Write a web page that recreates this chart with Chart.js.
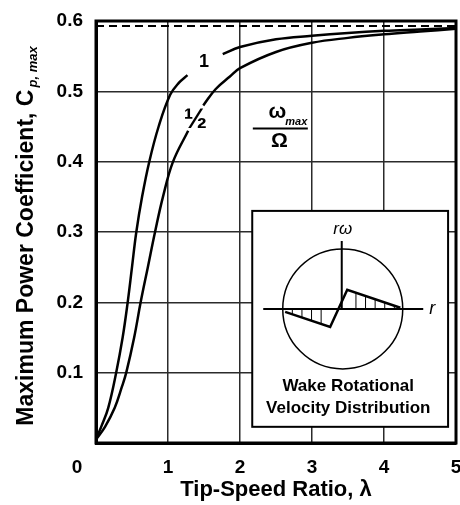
<!DOCTYPE html>
<html>
<head>
<meta charset="utf-8">
<script src="https://cdn.jsdelivr.net/npm/chart.js@4.4.0/dist/chart.umd.min.js"></script>
<style>
  html, body { margin: 0; padding: 0; background: #fff; }
  #wrap { width: 460px; height: 505px; }
</style>
</head>
<body>
<div id="wrap"><canvas id="cpChart" width="460" height="505"></canvas></div>
<script>
// Maximum power coefficient against tip-speed ratio for two wake rotation ratios
const lambdaOne = [0, 0.08, 0.17, 0.28, 0.37, 0.44, 0.50, 0.56, 0.64, 0.74, 0.87, 1.03, 1.15, 1.27, 1.5, 1.76, 2.0, 2.5, 3.0, 3.5, 4.0, 4.5, 5.0];
const cpOne     = [0.005, 0.025, 0.05, 0.1, 0.15, 0.2, 0.25, 0.3, 0.35, 0.4, 0.45, 0.495, 0.512, 0.523, null, 0.553, 0.563, 0.574, 0.579, 0.583, 0.586, 0.588, 0.590];

const lambdaHalf = [0, 0.125, 0.26, 0.36, 0.42, 0.53, 0.62, 0.72, 0.82, 0.93, 1.07, 1.28, 1.4, 1.49, 1.66, 1.86, 2.0, 2.5, 3.0, 3.5, 4.0, 4.5, 5.0];
const cpHalf     = [0.005, 0.023, 0.05, 0.08, 0.1, 0.15, 0.2, 0.25, 0.3, 0.35, 0.4, 0.444, null, 0.48, 0.503, 0.521, 0.533, 0.556, 0.569, 0.576, 0.581, 0.585, 0.589];

// Betz limit, 16/27
const betzLimit = 0.593;

const xTickValues = [0, 1, 2, 3, 4, 5];
const xTickLabels = ['0', '1', '2', '3', '4', '5'];
const yTickValues = [0, 0.1, 0.2, 0.3, 0.4, 0.5, 0.6];
const yTickLabels = ['', '0.1', '0.2', '0.3', '0.4', '0.5', '0.6'];

// Wake rotation sketch: radius fraction and swirl (both in circle radii)
const wakeRadius = [-0.96, -0.21, 0.075, 0.96];
const wakeSwirl  = [-0.05, -0.30, 0.32, 0.02];
const hatchRadius = [-0.84, -0.68, -0.52, -0.36, 0.22, 0.38, 0.54, 0.70, 0.86];

const FONT = '"Liberation Sans", Arial, Helvetica, sans-serif';

function toPoints(xs, ys) {
    return xs.map((x, i) => ({ x: x, y: ys[i] }));
}

// keep the plot area fixed: no extra room for overhanging tick labels
function noOverhang(scale) {
    scale.paddingLeft = 0;
    scale.paddingRight = 0;
    scale.paddingTop = 0;
    scale.paddingBottom = 0;
}

// plain black frame round the plot area
const framePlugin = {
    id: 'frame',
    beforeDatasetsDraw(chart) {
        const a = chart.chartArea;
        const ctx = chart.ctx;
        ctx.save();
        ctx.strokeStyle = '#000';
        ctx.lineWidth = 3;
        ctx.strokeRect(a.left, a.top, a.right - a.left, a.bottom - a.top);
        ctx.restore();
    }
};

// y title with subscript, curve labels, inset sketch
const notesPlugin = {
    id: 'notes',
    afterDraw(chart) {
        const ctx = chart.ctx;
        const xs = chart.scales.x;
        const ys = chart.scales.y;
        const a = chart.chartArea;

        ctx.save();
        ctx.fillStyle = '#000';
        ctx.strokeStyle = '#000';

        // y axis title
        const main = 'Maximum Power Coefficient, C';
        const sub = 'p, max';
        ctx.font = 'bold 23px ' + FONT;
        const wMain = ctx.measureText(main).width;
        ctx.font = 'italic bold 13px ' + FONT;
        const wSub = ctx.measureText(sub).width;
        ctx.save();
        ctx.translate(33, (a.top + a.bottom) / 2 + 4);
        ctx.rotate(-Math.PI / 2);
        ctx.textAlign = 'left';
        ctx.textBaseline = 'alphabetic';
        const x0 = -(wMain + 2 + wSub) / 2;
        ctx.font = 'bold 23px ' + FONT;
        ctx.fillText(main, x0, 0);
        ctx.font = 'italic bold 13px ' + FONT;
        ctx.fillText(sub, x0 + wMain + 2, 4);
        ctx.restore();

        // shared origin label, set off to the left of the corner
        ctx.font = 'bold 19px ' + FONT;
        ctx.textAlign = 'center';
        ctx.textBaseline = 'middle';
        ctx.fillText(xTickLabels[0], a.left - 19, a.bottom + 13 + 11.4);

        // curve labels
        ctx.font = 'bold 18px ' + FONT;
        ctx.fillText('1', xs.getPixelForValue(1.50), ys.getPixelForValue(0.542));
        ctx.font = 'bold 28px ' + FONT;
        ctx.fillText('\u00BD', xs.getPixelForValue(1.38), ys.getPixelForValue(0.459));

        // omega_max / Omega
        const fx = xs.getPixelForValue(2.56);
        const fy = ys.getPixelForValue(0.447);
        ctx.lineWidth = 2;
        ctx.beginPath();
        ctx.moveTo(fx - 27.5, fy);
        ctx.lineTo(fx + 27.5, fy);
        ctx.stroke();
        ctx.font = 'bold 21px ' + FONT;
        ctx.fillText('\u03C9', fx - 3, fy - 16);
        ctx.fillText('\u03A9', fx - 1, fy + 13);
        ctx.font = 'italic bold 11px ' + FONT;
        ctx.textAlign = 'left';
        ctx.fillText('max', fx + 5, fy - 7);

        // inset: wake rotational velocity distribution
        const L = xs.getPixelForValue(2.17);
        const R = xs.getPixelForValue(4.89);
        const T = ys.getPixelForValue(0.330);
        const B = ys.getPixelForValue(0.023);
        ctx.fillStyle = '#fff';
        ctx.fillRect(L, T, R - L, B - T);
        ctx.fillStyle = '#000';
        ctx.lineWidth = 2;
        ctx.strokeRect(L, T, R - L, B - T);

        const cx = L + 90.5;
        const cy = T + 98;
        const rad = 60;
        ctx.lineWidth = 1.5;
        ctx.beginPath();
        ctx.arc(cx, cy, rad, 0, Math.PI * 2);
        ctx.stroke();

        ctx.lineWidth = 2;
        ctx.beginPath();
        ctx.moveTo(L + 11, cy);
        ctx.lineTo(L + 171, cy);
        ctx.moveTo(cx - 1, T + 30);
        ctx.lineTo(cx - 1, cy);
        ctx.stroke();

        const px = r => cx + r * rad;
        const py = s => cy - s * rad;
        ctx.lineWidth = 2.5;
        ctx.lineJoin = 'miter';
        ctx.beginPath();
        wakeRadius.forEach((r, i) => {
            if (i === 0) ctx.moveTo(px(r), py(wakeSwirl[i]));
            else ctx.lineTo(px(r), py(wakeSwirl[i]));
        });
        ctx.stroke();

        // hatching between profile and axis
        ctx.lineWidth = 1;
        hatchRadius.forEach(r => {
            let s = 0;
            for (let i = 0; i < wakeRadius.length - 1; i++) {
                if (r >= wakeRadius[i] && r <= wakeRadius[i + 1]) {
                    const t = (r - wakeRadius[i]) / (wakeRadius[i + 1] - wakeRadius[i]);
                    s = wakeSwirl[i] + t * (wakeSwirl[i + 1] - wakeSwirl[i]);
                }
            }
            ctx.beginPath();
            ctx.moveTo(px(r), cy);
            ctx.lineTo(px(r), py(s));
            ctx.stroke();
        });

        ctx.textAlign = 'center';
        ctx.textBaseline = 'middle';
        ctx.font = 'italic 17px ' + FONT;
        ctx.fillText('r\u03C9', cx, T + 18);
        ctx.font = 'italic 18px ' + FONT;
        ctx.fillText('r', L + 180, cy);

        ctx.font = 'bold 17px ' + FONT;
        ctx.fillText('Wake Rotational', L + 96, T + 175);
        ctx.fillText('Velocity Distribution', L + 96, T + 197);

        ctx.restore();
    }
};

const lineStyle = {
    borderColor: '#000',
    borderWidth: 2.5,
    pointRadius: 0,
    fill: false,
    spanGaps: false,
    tension: 0.4
};

new Chart(document.getElementById('cpChart'), {
    type: 'line',
    data: {
        datasets: [
            Object.assign({ label: '1', data: toPoints(lambdaOne, cpOne) }, lineStyle),
            Object.assign({ label: '1/2', data: toPoints(lambdaHalf, cpHalf) }, lineStyle),
            {
                label: 'Betz',
                data: [{ x: 0, y: betzLimit }, { x: 5, y: betzLimit }],
                borderColor: '#000',
                borderWidth: 2,
                borderDash: [8, 5],
                pointRadius: 0,
                fill: false
            }
        ]
    },
    options: {
        responsive: false,
        animation: false,
        devicePixelRatio: 1,
        layout: { autoPadding: false, padding: { top: 21, right: 4, left: 0, bottom: 0 } },
        plugins: {
            legend: { display: false },
            tooltip: { enabled: false }
        },
        scales: {
            x: {
                type: 'linear',
                min: 0,
                max: 5,
                afterFit: scale => { scale.height = 62; noOverhang(scale); },
                afterBuildTicks: axis => { axis.ticks = xTickValues.map(v => ({ value: v })); },
                ticks: {
                    color: '#000',
                    padding: 13,
                    maxRotation: 0,
                    font: { family: FONT, size: 19, weight: 'bold' },
                    callback: (value, index) => index === 0 ? '' : xTickLabels[index]
                },
                grid: { color: '#2b2b2b', lineWidth: 1.5, drawTicks: false },
                border: { display: true, color: '#000', width: 3 },
                title: {
                    display: true,
                    text: 'Tip-Speed Ratio, \u03BB',
                    color: '#000',
                    font: { family: FONT, size: 22, weight: 'bold', lineHeight: 1.2 },
                    padding: { top: 0, bottom: 2 }
                }
            },
            y: {
                type: 'linear',
                min: 0,
                max: 0.6,
                afterFit: scale => { scale.width = 96; noOverhang(scale); },
                afterBuildTicks: axis => { axis.ticks = yTickValues.map(v => ({ value: v })); },
                ticks: {
                    color: '#000',
                    padding: 13,
                    font: { family: FONT, size: 19, weight: 'bold' },
                    callback: (value, index) => yTickLabels[index]
                },
                grid: { color: '#2b2b2b', lineWidth: 1.5, drawTicks: false },
                border: { display: true, color: '#000', width: 3 }
            }
        }
    },
    plugins: [framePlugin, notesPlugin]
});
</script>
</body>
</html>
